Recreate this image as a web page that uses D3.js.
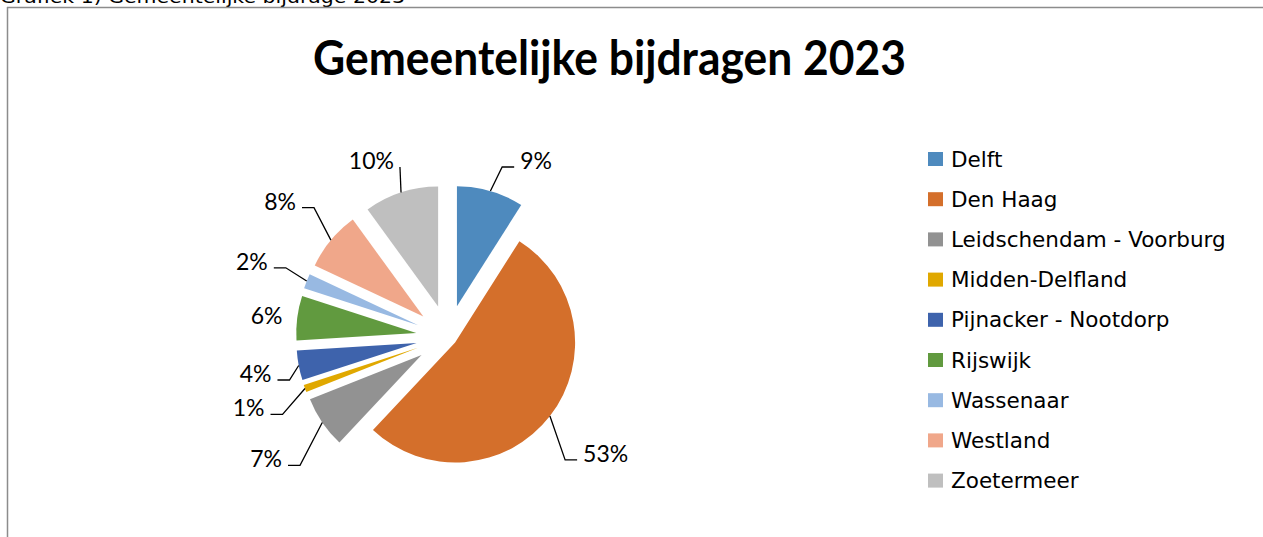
<!DOCTYPE html>
<html>
<head>
<meta charset="UTF-8">
<script src="https://cdn.jsdelivr.net/npm/d3@7"></script>
<style>
	body { margin: 0; background: #fff; overflow: hidden; }
	svg { display: block; }
	.caption { font-family: "DejaVu Sans", Verdana, sans-serif; font-size: 18px; fill: #000; }
	.title { font-family: Lato, "Open Sans", sans-serif; font-weight: bold; font-size: 47px; fill: #000; }
	.plabel { font-family: Lato, "Open Sans", sans-serif; font-size: 23px; fill: #000; }
	.leader { fill: none; stroke: #000; stroke-width: 1.3; }
	.frame { stroke: #8c8c8c; stroke-width: 1.5; }
	.legend text { font-family: "DejaVu Sans", Verdana, sans-serif; font-size: 21.5px; fill: #000; }
</style>
</head>
<body>
<svg id="chart"></svg>
<script>
// data
var gemeenten = ["Delft", "Den Haag", "Leidschendam - Voorburg", "Midden-Delfland",
	"Pijnacker - Nootdorp", "Rijswijk", "Wassenaar", "Westland", "Zoetermeer"];
var aandeel = [9, 53, 7, 1, 4, 6, 2, 8, 10];
var kleuren = ["#4e8abe", "#d46f2b", "#929292", "#e0a800", "#3e63ac", "#619a3f", "#98b9e2", "#f0a78a", "#bfbfbf"];
var titel = "Gemeentelijke bijdragen 2023";
var bijschrift = "Grafiek 1) Gemeentelijke bijdrage 2023";

// layout knobs (Excel style explosion / label spacing)
var explode = [32, 9, 32, 32, 32, 32, 32, 32, 32];
var labelGap = [34, 48, 52, 44, 28, 15, 43, 50, 28];

(function(d3) {
	var W = 1263, H = 537;
	var svg = d3.select("#chart").attr("width", W).attr("height", H);

	// caption, partly scrolled off the top
	svg.append("text").attr("class", "caption")
		.attr("x", 0).attr("y", 3)
		.attr("textLength", 405).attr("lengthAdjust", "spacingAndGlyphs")
		.text(bijschrift);

	// chart frame (right and bottom edge fall outside the view)
	svg.append("line").attr("class", "frame")
		.attr("x1", 7).attr("y1", 7.5).attr("x2", W).attr("y2", 7.5);
	svg.append("line").attr("class", "frame")
		.attr("x1", 7.5).attr("y1", 7).attr("x2", 7.5).attr("y2", H);

	svg.append("text").attr("class", "title")
		.attr("x", 609.5).attr("y", 75).attr("text-anchor", "middle")
		.attr("textLength", 593).attr("lengthAdjust", "spacingAndGlyphs")
		.text(titel);

	var cx = 448, cy = 337, r = 120, labelTop = 160;

	var data = gemeenten.map(function(g, i) { return { naam: g, waarde: aandeel[i], i: i }; });
	var pie = d3.pie().sort(null).value(function(d) { return d.waarde; });
	var arc = d3.arc().innerRadius(0).outerRadius(r);
	var arcs = pie(data);

	var g = svg.append("g").attr("transform", "translate(" + cx + "," + cy + ")");

	arcs.forEach(function(a) {
		var mid = (a.startAngle + a.endAngle) / 2;
		a.dir = [Math.sin(mid), -Math.cos(mid)];
		var off = explode[a.data.i];
		a.apex = [a.dir[0] * off, a.dir[1] * off];
	});

	g.selectAll("path.slice")
		.data(arcs).enter()
		.append("path")
		.attr("class", "slice")
		.attr("d", arc)
		.attr("fill", function(d) { return kleuren[d.data.i]; })
		.attr("transform", function(d) { return "translate(" + d.apex[0] + "," + d.apex[1] + ")"; });

	// labels
	var labels = g.selectAll("text.plabel")
		.data(arcs).enter()
		.append("text")
		.attr("class", "plabel")
		.attr("text-anchor", "middle")
		.attr("dominant-baseline", "central")
		.text(function(d) { return d.data.waarde + "%"; });

	labels.each(function(d) {
		var hw = this.getComputedTextLength() / 2, hh = 12;
		var gap = labelGap[d.data.i];
		var vx = d.dir[0] * (r + gap) + d.dir[0] * hw;
		var vy = d.dir[1] * (r + gap) + d.dir[1] * hh;
		var x = d.apex[0] + vx, y = d.apex[1] + vy;
		// keep labels below the title area: slide along the circle
		if (y + cy < labelTop) {
			var dist = Math.sqrt(vx * vx + vy * vy);
			var cosT = (d.apex[1] + cy - labelTop) / dist;
			var t = Math.acos(Math.min(1, cosT));
			x = d.apex[0] + Math.sign(vx) * dist * Math.sin(t);
			y = labelTop - cy;
		}
		d.lx = x; d.ly = y; d.hw = hw;
		d3.select(this).attr("x", x).attr("y", y);
	});

	// leader lines for labels that were pulled away from the slice
	var leaderData = arcs.filter(function(d) { return labelGap[d.data.i] > 20; });
	g.selectAll("path.leader")
		.data(leaderData).enter()
		.append("path")
		.attr("class", "leader")
		.attr("d", function(d) {
			var sx = d.apex[0] + d.dir[0] * r, sy = d.apex[1] + d.dir[1] * r;
			var s = sx > d.lx ? 1 : -1;
			var ex = d.lx + s * (d.hw + 6), ey = d.ly + 7;
			var kx = ex + s * 12;
			if (s * (sx - kx) < 0) kx = ex;
			return d3.line()([[sx, sy], [kx, ey], [ex, ey]]);
		});

	// legend
	var legend = svg.append("g").attr("class", "legend")
		.attr("transform", "translate(928,159)");
	var item = legend.selectAll("g.item")
		.data(gemeenten).enter()
		.append("g").attr("class", "item")
		.attr("transform", function(d, i) { return "translate(0," + (i * 40.2) + ")"; });
	item.append("rect")
		.attr("x", 0).attr("y", -7).attr("width", 15).attr("height", 14)
		.attr("fill", function(d, i) { return kleuren[i]; });
	item.append("text")
		.attr("x", 23).attr("y", 0).attr("dominant-baseline", "central")
		.text(function(d) { return d; });
})(window.d3);
</script>
</body>
</html>
